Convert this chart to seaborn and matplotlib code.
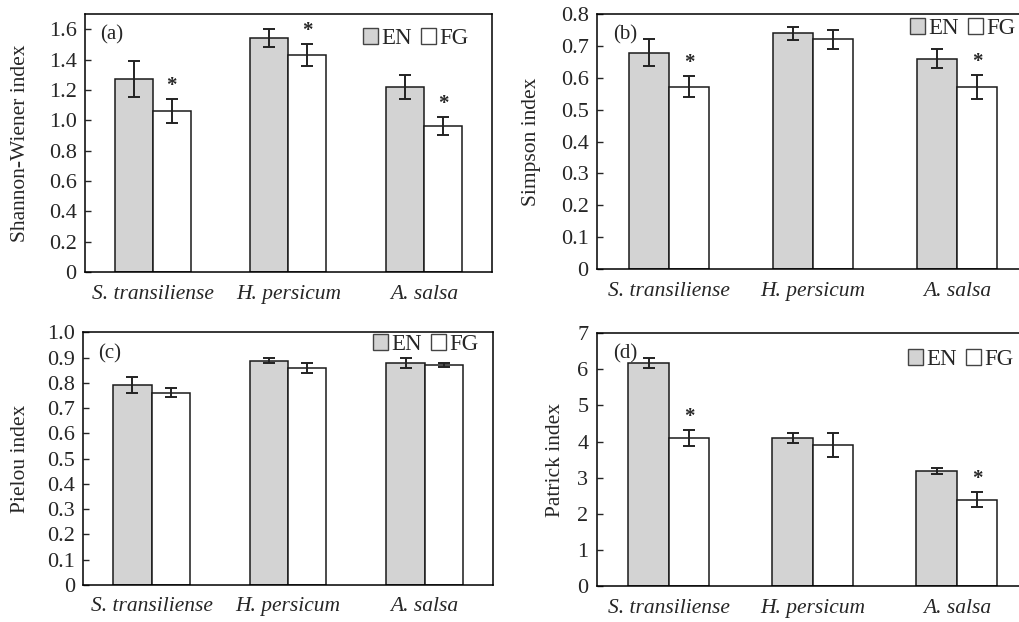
import pandas as pd
import matplotlib.pyplot as plt
import matplotlib.patches as mpatches
import seaborn as sns

# Data
species = ['S. transiliense', 'H. persicum', 'A. salsa']
groups = ['EN', 'FG']

shannon_en = [1.27, 1.54, 1.22]
shannon_fg = [1.06, 1.43, 0.96]
shannon_en_se = [0.12, 0.06, 0.077]
shannon_fg_se = [0.08, 0.07, 0.06]
shannon_star = [True, True, True]

simpson_en = [0.679, 0.739, 0.660]
simpson_fg = [0.572, 0.720, 0.572]
simpson_en_se = [0.042, 0.02, 0.03]
simpson_fg_se = [0.032, 0.03, 0.038]
simpson_star = [True, False, True]

pielou_en = [0.792, 0.888, 0.880]
pielou_fg = [0.762, 0.860, 0.870]
pielou_en_se = [0.03, 0.01, 0.02]
pielou_fg_se = [0.018, 0.02, 0.008]
pielou_star = [False, False, False]

patrick_en = [6.18, 4.10, 3.19]
patrick_fg = [4.09, 3.91, 2.40]
patrick_en_se = [0.14, 0.13, 0.08]
patrick_fg_se = [0.22, 0.33, 0.20]
patrick_star = [True, False, True]

sns.set_style('white')
plt.rcParams['font.family'] = ['Liberation Serif', 'DejaVu Serif']

fig = plt.figure(figsize=(10.19, 6.22), dpi=100)

# label, ylabel, values..., ylim, ticks, axes rect, legend anchor, ylabel x
panels = [
    ('(a)', 'Shannon-Wiener index', shannon_en, shannon_fg, shannon_en_se, shannon_fg_se, shannon_star,
     (0, 1.7), [0, 0.2, 0.4, 0.6, 0.8, 1.0, 1.2, 1.4, 1.6], ['0', '0.2', '0.4', '0.6', '0.8', '1.0', '1.2', '1.4', '1.6'],
     [0.0834, 0.5627, 0.3994, 0.4148], (0.683, 0.945), -0.134),
    ('(b)', 'Simpson index', simpson_en, simpson_fg, simpson_en_se, simpson_fg_se, simpson_star,
     (0, 0.8), [0, 0.1, 0.2, 0.3, 0.4, 0.5, 0.6, 0.7, 0.8], ['0', '0.1', '0.2', '0.3', '0.4', '0.5', '0.6', '0.7', '0.8'],
     [0.5859, 0.5675, 0.424, 0.410], (0.7245, 0.985), -0.129),
    ('(c)', 'Pielou index', pielou_en, pielou_fg, pielou_en_se, pielou_fg_se, pielou_star,
     (0, 1.0), [0, 0.1, 0.2, 0.3, 0.4, 0.5, 0.6, 0.7, 0.8, 0.9, 1.0], ['0', '0.1', '0.2', '0.3', '0.4', '0.5', '0.6', '0.7', '0.8', '0.9', '1.0'],
     [0.0817, 0.0595, 0.402, 0.406], (0.708, 0.993), -0.130),
    ('(d)', 'Patrick index', patrick_en, patrick_fg, patrick_en_se, patrick_fg_se, patrick_star,
     (0, 7), [0, 1, 2, 3, 4, 5, 6, 7], ['0', '1', '2', '3', '4', '5', '6', '7'],
     [0.5856, 0.0574, 0.424, 0.407], (0.720, 0.936), -0.074),
]

for label, ylab, en, fg, en_se, fg_se, star, ylim, yt, ytl, pos, leg_anchor, ylab_x in panels:
    ax = fig.add_axes(pos)
    df = pd.DataFrame({
        'species': species * 2,
        'group': ['EN'] * 3 + ['FG'] * 3,
        'value': en + fg,
        'se': en_se + fg_se,
    })
    sns.barplot(data=df, x='species', y='value', hue='group', order=species, hue_order=groups,
                palette={'EN': '#d3d3d3', 'FG': 'white'}, width=0.56, errorbar=None,
                edgecolor='#1a1a1a', linewidth=1.1, legend=False, ax=ax)

    # bars come in hue order: EN bars then FG bars
    bars = ax.patches[:6]
    xs = [b.get_x() + b.get_width() / 2 for b in bars]
    hs = [b.get_height() for b in bars]
    ses = en_se + fg_se
    ax.errorbar(xs, hs, yerr=ses, fmt='none', ecolor='#222222', elinewidth=1.4,
                capsize=4, capthick=1.4, zorder=5)
    for i, s in enumerate(star):
        if s:
            j = 3 + i
            ax.text(xs[j], hs[j] + ses[j] + (ylim[1] - ylim[0]) * 0.012, '*',
                    ha='center', va='bottom', fontsize=15, fontweight='bold')

    ax.set_xlim(-0.5, 2.5)
    ax.set_ylim(*ylim)
    ax.set_yticks(yt)
    ax.set_yticklabels(ytl, fontsize=16)
    ax.set_xticks(range(3))
    ax.set_xticklabels(species, fontsize=15.5, style='italic')
    ax.set_xticks([0.5, 1.5], minor=True)
    ax.tick_params(axis='x', which='major', length=0, pad=9)
    ax.tick_params(axis='x', which='minor', direction='in', length=4, width=1)
    ax.tick_params(axis='y', direction='in', length=4, width=1, pad=6, left=True)
    ax.set_xlabel('')
    ax.set_ylabel(ylab, fontsize=15.5)
    ax.yaxis.set_label_coords(ylab_x, 0.5)
    for sp in ax.spines.values():
        sp.set_color('black')
        sp.set_linewidth(1.1)
    ax.text(0.037, 0.955, label, transform=ax.transAxes, fontsize=15, ha='left', va='top')

    handles = [mpatches.Patch(facecolor='#d3d3d3', edgecolor='#444444', label='EN'),
               mpatches.Patch(facecolor='white', edgecolor='#444444', label='FG')]
    ax.legend(handles=handles, loc='upper left', bbox_to_anchor=leg_anchor, ncol=2, frameon=False,
              fontsize=16.5, handlelength=0.65, handleheight=0.7, handletextpad=0.15,
              columnspacing=0.4, borderaxespad=0, borderpad=0)

fig.savefig('out.png', dpi=100)
